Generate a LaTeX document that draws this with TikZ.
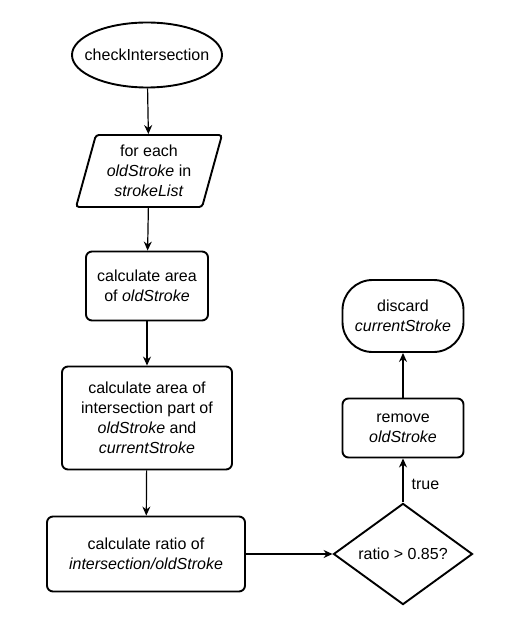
\documentclass[tikz,border=0pt]{standalone}
\usepackage{fontspec}
\setmainfont{Liberation Sans}
\usetikzlibrary{shapes.geometric,arrows.meta}

\begin{document}
\begin{tikzpicture}[x=1pt, y=-1pt,
    every node/.style={font=\fontsize{16}{20}\selectfont, align=center, inner sep=0pt},
    terminal/.style={draw, ellipse, line width=1.9pt, inner xsep=-12pt, minimum width=150pt, minimum height=65pt},
    loopbox/.style={draw, trapezium, trapezium left angle=73, trapezium right angle=107,
        trapezium stretches=true, rounded corners=3pt, line width=1.9pt, minimum width=146pt, minimum height=72pt},
    stepbox/.style={draw, rectangle, rounded corners=6pt, line width=1.9pt},
    stopbox/.style={draw, rectangle, rounded corners=30pt, line width=1.9pt, minimum width=121pt, minimum height=72pt},
    decision/.style={draw, diamond, line width=1.9pt, minimum width=139pt, minimum height=98pt},
    flow/.style={-{Stealth[length=9pt,width=8pt]}, line width=1.2pt}]
\useasboundingbox (0,0) rectangle (506,617);

% Main column
\node[terminal] (check) at (147,55) {checkIntersection};
\node[loopbox] (foreach) at (149,171) {for each\\\textit{oldStroke} in\\\textit{strokeList}};
\node[stepbox, minimum width=122pt, minimum height=69pt] (areaold) at (147,286) {calculate area\\of \textit{oldStroke}};
\node[stepbox, minimum width=170pt, minimum height=103pt] (areaint) at (147,418) {calculate area of\\intersection part of\\\textit{oldStroke} and\\\textit{currentStroke}};
\node[stepbox, minimum width=198pt, minimum height=75pt] (ratio) at (146,554) {calculate ratio of\\\textit{intersection/oldStroke}};

% Right column
\node[decision] (test) at (403,554) {ratio > 0.85?};
\node[stepbox, minimum width=121pt, minimum height=59pt] (remove) at (403,428) {remove\\\textit{oldStroke}};
\node[stopbox] (discard) at (403,316) {discard\\\textit{currentStroke}};

% Connectors
\draw[flow] (check) -- (foreach);
\draw[flow] (foreach) -- (areaold);
\draw[flow] (areaold) -- (areaint);
\draw[flow] (areaint) -- (ratio);
\draw[flow] (ratio) -- (test);
\draw[flow] (test) -- node[right=8pt, pos=0.4] {true} (remove);
\draw[flow] (remove) -- (discard);
\end{tikzpicture}
\end{document}
